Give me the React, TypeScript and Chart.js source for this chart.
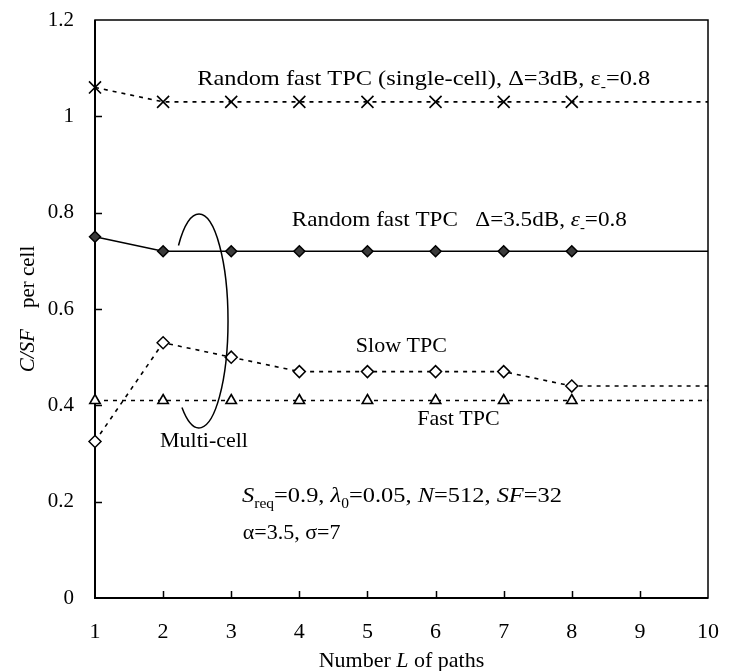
import React, { useEffect, useRef } from "react";
import { Chart, registerables } from "chart.js";

Chart.register(...registerables);

const FAMILY = "'Liberation Serif', 'Times New Roman', Times, serif";

// ---- data ----
const pathCounts = [1, 2, 3, 4, 5, 6, 7, 8, 9, 10];
const singleCellRandomFast = [1.06, 1.03, 1.03, 1.03, 1.03, 1.03, 1.03, 1.03, 1.03, 1.03];
const multiCellRandomFast = [0.75, 0.72, 0.72, 0.72, 0.72, 0.72, 0.72, 0.72, 0.72, 0.72];
const multiCellSlow = [0.325, 0.53, 0.5, 0.47, 0.47, 0.47, 0.47, 0.44, 0.44, 0.44];
const multiCellFast = [0.41, 0.41, 0.41, 0.41, 0.41, 0.41, 0.41, 0.41, 0.41, 0.41];
const markedPointCount = 8; // markers drawn for L = 1..8 only
const xTickLabels = ["1", "2", "3", "4", "5", "6", "7", "8", "9", "10"];
const yTickLabels = ["0", "0.2", "0.4", "0.6", "0.8", "1", "1.2"];

type Seg = { t: string; i?: boolean; sub?: boolean };

// annotation anchors in data coordinates (left edge, vertical centre)
const annotations: { x: number; y: number; size: number; fit?: number; segs: Seg[] }[] = [
  {
    x: 2.5, y: 1.08, size: 22, fit: 453,
    segs: [{ t: "Random fast TPC (single-cell), \u0394=3dB, \u03b5" }, { t: "-", sub: true }, { t: "=0.8" }],
  },
  {
    x: 3.89, y: 0.787, size: 22, fit: 335,
    segs: [{ t: "Random fast TPC   \u0394=3.5dB, " }, { t: "\u03b5", i: true }, { t: "-", sub: true }, { t: "=0.8" }],
  },
  { x: 4.83, y: 0.525, size: 22, segs: [{ t: "Slow TPC" }] },
  { x: 5.73, y: 0.374, size: 22, segs: [{ t: "Fast TPC" }] },
  { x: 1.954, y: 0.328, size: 22, segs: [{ t: "Multi-cell" }] },
  {
    x: 3.158, y: 0.214, size: 22, fit: 320,
    segs: [
      { t: "S", i: true }, { t: "req", sub: true }, { t: "=0.9, " },
      { t: "\u03bb", i: true }, { t: "0", sub: true }, { t: "=0.05, " },
      { t: "N", i: true }, { t: "=512, " }, { t: "SF", i: true }, { t: "=32" },
    ],
  },
  { x: 3.17, y: 0.137, size: 22, segs: [{ t: "\u03b1=3.5, \u03c3=7" }] },
];

// open ellipse grouping the multi-cell curves (data coords)
const groupEllipse = { cx: 2.527, cy: 0.575, rx: 0.426, ry: 0.222, startDeg: 225, endDeg: 126 };

function drawRich(
  ctx: CanvasRenderingContext2D,
  segs: Seg[],
  x: number,
  y: number,
  size: number,
  align: "left" | "center" = "left",
  fitWidth?: number,
  rotate = false
) {
  const fontFor = (s: Seg) => `${s.i ? "italic " : ""}${s.sub ? Math.round(size * 0.65) : size}px ${FAMILY}`;
  let total = 0;
  const widths = segs.map((s) => {
    ctx.font = fontFor(s);
    const w = ctx.measureText(s.t).width;
    total += w;
    return w;
  });
  const sx = fitWidth ? fitWidth / total : 1;
  ctx.save();
  ctx.translate(x, y);
  if (rotate) ctx.rotate(-Math.PI / 2);
  ctx.scale(sx, 1);
  ctx.fillStyle = "#000";
  ctx.textBaseline = "alphabetic";
  ctx.textAlign = "left";
  let cx = align === "center" ? -total / 2 : 0;
  const base = size * 0.33;
  segs.forEach((s, k) => {
    ctx.font = fontFor(s);
    ctx.fillText(s.t, cx, base + (s.sub ? size * 0.28 : 0));
    cx += widths[k];
  });
  ctx.restore();
}

const decorPlugin = {
  id: "decor",
  beforeDatasetsDraw(chart: any) {
    const { ctx, chartArea: a, scales } = chart;
    const x = scales.x;
    const y = scales.y;
    ctx.save();
    ctx.strokeStyle = "#000";
    ctx.lineWidth = 1.5;
    ctx.strokeRect(a.left, a.top, a.right - a.left, a.bottom - a.top);
    ctx.lineWidth = 2;
    ctx.beginPath();
    ctx.moveTo(a.left, a.top);
    ctx.lineTo(a.left, a.bottom);
    ctx.lineTo(a.right, a.bottom);
    ctx.stroke();
    ctx.lineWidth = 1.5;
    ctx.beginPath();
    y.ticks.forEach((t: any) => {
      if (t.value <= y.min + 1e-9 || t.value >= y.max - 1e-9) return;
      const py = Math.round(y.getPixelForValue(t.value)) + 0.5;
      ctx.moveTo(a.left, py);
      ctx.lineTo(a.left + 7, py);
    });
    x.ticks.forEach((t: any) => {
      if (t.value <= x.min + 1e-9 || t.value >= x.max - 1e-9) return;
      const px = Math.round(x.getPixelForValue(t.value)) + 0.5;
      ctx.moveTo(px, a.bottom);
      ctx.lineTo(px, a.bottom - 7);
    });
    ctx.stroke();
    ctx.restore();
  },
  afterDatasetsDraw(chart: any) {
    const { ctx, chartArea: a, scales } = chart;
    const x = scales.x;
    const y = scales.y;
    ctx.save();
    const e = groupEllipse;
    const ecx = x.getPixelForValue(e.cx);
    const ecy = y.getPixelForValue(e.cy);
    const erx = Math.abs(x.getPixelForValue(e.cx + e.rx) - ecx);
    const ery = Math.abs(y.getPixelForValue(e.cy + e.ry) - ecy);
    ctx.strokeStyle = "#000";
    ctx.lineWidth = 1.5;
    ctx.setLineDash([]);
    ctx.beginPath();
    ctx.ellipse(ecx, ecy, erx, ery, 0, (e.startDeg * Math.PI) / 180, (e.endDeg * Math.PI) / 180);
    ctx.stroke();
    ctx.restore();

    annotations.forEach((an) => {
      drawRich(ctx, an.segs, x.getPixelForValue(an.x), y.getPixelForValue(an.y), an.size, "left", an.fit);
    });

    drawRich(
      ctx,
      [{ t: "Number " }, { t: "L", i: true }, { t: " of paths" }],
      (a.left + a.right) / 2,
      a.bottom + 62,
      22,
      "center"
    );
    drawRich(ctx, [{ t: "C/SF", i: true }, { t: "    per cell" }], 27, (a.top + a.bottom) / 2, 21, "center", undefined, true);
  },
};

const zeroPad = (s: any) => {
  s.paddingTop = 0;
  s.paddingBottom = 0;
  s.paddingLeft = 0;
  s.paddingRight = 0;
};

export default function App() {
  const canvasRef = useRef<HTMLCanvasElement | null>(null);

  useEffect(() => {
    if (!canvasRef.current) return;
    const pts = (vals: number[]) => pathCounts.map((l, i) => ({ x: l, y: vals[i] }));
    const radius = (r: number) => (c: any) => (c.dataIndex < markedPointCount ? r : 0);

    const chart = new Chart(canvasRef.current, {
      type: "line",
      data: {
        datasets: [
          {
            label: "Random fast TPC (single-cell)",
            data: pts(singleCellRandomFast),
            borderColor: "#000",
            borderWidth: 1.6,
            borderDash: [4, 5],
            pointStyle: "crossRot",
            pointRadius: radius(8.5),
            pointBorderWidth: 1.6,
            pointBorderColor: "#000",
            pointBackgroundColor: "#000",
            clip: false,
          } as any,
          {
            label: "Random fast TPC (multi-cell)",
            data: pts(multiCellRandomFast),
            borderColor: "#000",
            borderWidth: 1.5,
            pointStyle: "rectRot",
            pointRadius: radius(5.5),
            pointBorderWidth: 1.5,
            pointBorderColor: "#000",
            pointBackgroundColor: "#3a3a3a",
            clip: false,
          } as any,
          {
            label: "Slow TPC",
            data: pts(multiCellSlow),
            borderColor: "#000",
            borderWidth: 1.6,
            borderDash: [4, 5],
            pointStyle: "rectRot",
            pointRadius: radius(6),
            pointBorderWidth: 1.5,
            pointBorderColor: "#000",
            pointBackgroundColor: "#fff",
            clip: false,
          } as any,
          {
            label: "Fast TPC",
            data: pts(multiCellFast),
            borderColor: "#000",
            borderWidth: 1.6,
            borderDash: [4, 5],
            pointStyle: "triangle",
            pointRadius: radius(6),
            pointBorderWidth: 1.6,
            pointBorderColor: "#000",
            pointBackgroundColor: "#fff",
            clip: false,
          } as any,
        ],
      },
      options: {
        animation: false,
        responsive: false,
        events: [],
        layout: { padding: { top: 20, right: 23, left: 0, bottom: 0 } },
        plugins: { legend: { display: false }, tooltip: { enabled: false }, title: { display: false } },
        elements: { line: { tension: 0 } },
        scales: {
          x: {
            type: "linear",
            min: 1,
            max: 10,
            grid: { display: false, drawTicks: false },
            border: { display: false },
            ticks: {
              stepSize: 1,
              padding: 21,
              color: "#000",
              font: { family: FAMILY, size: 22 },
              maxRotation: 0,
              callback: (_v: any, i: number) => xTickLabels[i],
            },
            afterFit: (s: any) => {
              s.height = 73;
              zeroPad(s);
            },
          },
          y: {
            type: "linear",
            min: 0,
            max: 1.2,
            grid: { display: false, drawTicks: false },
            border: { display: false },
            ticks: {
              stepSize: 0.2,
              padding: 21,
              color: "#000",
              font: { family: FAMILY, size: 21 },
              callback: (_v: any, i: number) => yTickLabels[i],
            },
            afterFit: (s: any) => {
              s.width = 95;
              zeroPad(s);
            },
          },
        },
      } as any,
      plugins: [decorPlugin],
    });
    return () => chart.destroy();
  }, []);

  return (
    <div style={{ position: "fixed", left: 0, top: 0, width: 731, height: 671, background: "#fff" }}>
      <canvas ref={canvasRef} width={731} height={671} />
    </div>
  );
}
